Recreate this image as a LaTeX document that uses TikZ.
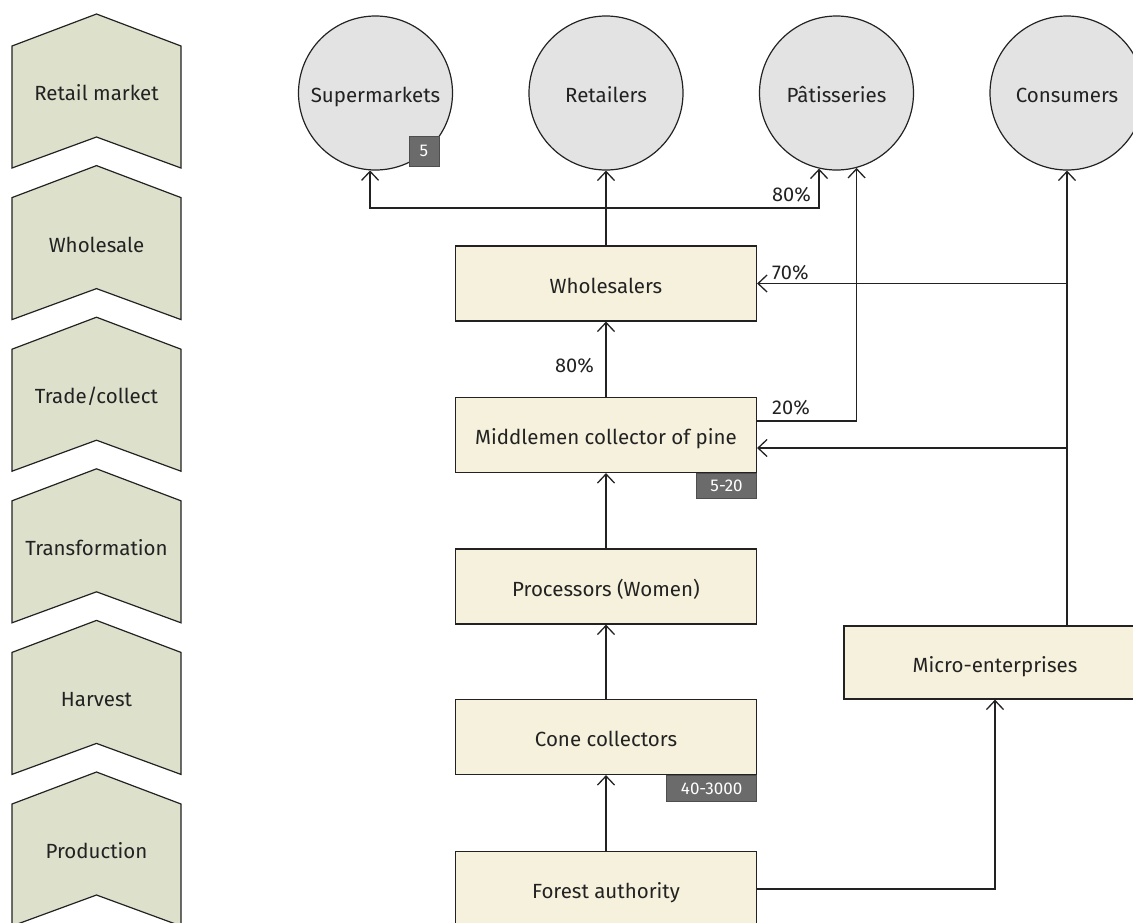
\documentclass[tikz,border=0pt]{standalone}
\usepackage{fontspec}
\setmainfont{Fira Sans}
\usetikzlibrary{arrows.meta,calc}
\definecolor{stagefill}{HTML}{DDE0CB}
\definecolor{boxfill}{HTML}{F6F1DC}
\definecolor{circfill}{HTML}{E3E3E3}
\definecolor{badgefill}{HTML}{6B6B6B}
\definecolor{ink}{HTML}{222222}
\tikzset{
  stage/.style={draw=ink, fill=stagefill, line width=1.2pt, line join=miter},
  stagelabel/.style={text=ink, font=\fontsize{20.5}{24}\selectfont},
  actor/.style={draw=ink, fill=boxfill, line width=1.2pt, minimum width=301pt,
    minimum height=75pt, inner sep=0pt, text=ink, text height=19pt, text depth=0pt,
    font=\fontsize{20.5}{24}\selectfont},
  market/.style={circle, draw=ink, fill=circfill, line width=1.2pt, minimum size=154pt,
    inner sep=0pt, text=ink, text height=19pt, text depth=0pt,
    font=\fontsize{20.5}{24}\selectfont},
  badge/.style={draw=ink!80, fill=badgefill, line width=1pt, inner sep=0pt,
    text=white, font=\fontsize{17}{20}\selectfont},
  flow/.style={draw=ink, line width=1.3pt, -{Straight Barb[length=9pt,width=17pt]}},
  share/.style={text=ink, font=\fontsize{20}{24}\selectfont, inner sep=0pt}
}
\begin{document}
\begin{tikzpicture}[x=1pt,y=-1pt]
\useasboundingbox (0,0) rectangle (1133,922);
\clip (0,0) rectangle (1133,922);

% value-chain stages
\foreach \lab [count=\i from 0] in {Retail market, Wholesale, Trade/collect, Transformation, Harvest, Production} {
  \pgfmathsetmacro\t{14+151.6*\i}
  \draw[stage] (96.5,\t) -- (181,\t+32) -- (181,\t+154) -- (96.5,\t+123)
    -- (12,\t+154) -- (12,\t+32) -- cycle;
  \node[stagelabel] (stage\i) at (96.5,\t+79) {\lab};
}

% markets
\node[market] (sup) at (375.5,93) {Supermarkets};
\node[market] (ret) at (606,93) {Retailers};
\node[market] (pat) at (836.5,93) {Pâtisseries};
\node[market] (con) at (1067,93) {Consumers};
\node[badge, minimum width=30pt, minimum height=30pt] (supn) at (424,151) {5};

% actors
\node[actor] (whole) at (606,283.5) {Wholesalers};
\node[actor] (mid) at (606,435) {Middlemen collector of pine};
\node[actor] (proc) at (606,586.5) {Processors (Women)};
\node[actor] (cone) at (606,737) {Cone collectors};
\node[actor] (forest) at (606,889) {Forest authority};
\node[actor, minimum width=302pt, minimum height=73pt] (micro) at (995,662.5) {Micro-enterprises};

\node[badge, anchor=north east, minimum width=60pt, minimum height=25pt] (midn) at (mid.south east) {5-20};
\node[badge, anchor=north east, minimum width=90pt, minimum height=26pt] (conen) at (cone.south east) {40-3000};

% flows
\draw[flow] (forest.north) -- (cone.south);
\draw[flow] (cone.north) -- (proc.south);
\draw[flow] (proc.north) -- (mid.south);
\draw[flow] (mid.north) -- (whole.south);
\draw[flow] (whole.north) -- (ret.south);
\coordinate (split) at (606,208);
\draw[flow] (split) -| (sup.-94);
\draw[flow] (split) -| (pat.-103);
\draw[flow] (forest.east) -| (micro.south);
\draw[flow] (micro.north -| con.south) -- (con.south);
\draw[flow] (con.south |- whole.east) -- (whole.east);
\coordinate (midin) at ($(mid.east)+(0,13)$);
\coordinate (midout) at ($(mid.east)+(0,-14)$);
\draw[flow] (con.south |- midin) -- (midin);
\draw[flow] (midout) -| (pat.-75);

% shares
\node[share, anchor=south east] (s1) at (811,202) {80\%};
\node[share, anchor=south west] (s2) at (772,280) {70\%};
\node[share, anchor=south west] (s3) at (772,415) {20\%};
\node[share, anchor=east] (s4) at (594,366) {80\%};
\end{tikzpicture}
\end{document}
